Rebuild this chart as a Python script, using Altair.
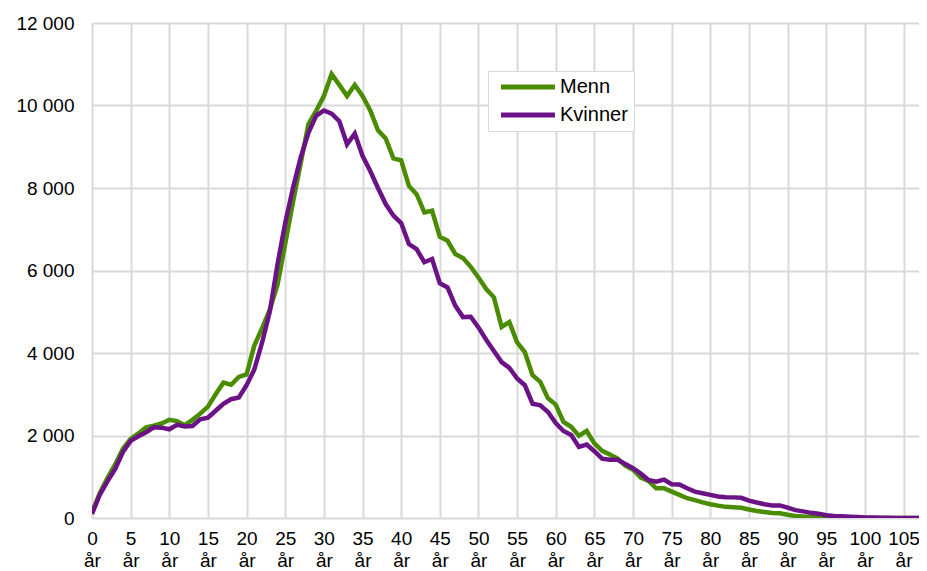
import altair as alt
import pandas as pd

ages = list(range(0, 108))

menn = [
    140, 600, 970, 1300, 1680, 1920, 2050, 2200, 2240, 2290,
    2380, 2350, 2250, 2380, 2530, 2700, 3000, 3280, 3230, 3420,
    3480, 4180, 4600, 5050, 5650, 6650, 7650, 8600, 9550, 9870,
    10230, 10760, 10500, 10230, 10500, 10230, 9880, 9400, 9200, 8720,
    8670, 8050, 7850, 7410, 7450, 6820, 6720, 6400, 6300, 6090,
    5830, 5550, 5350, 4630, 4750, 4260, 4020, 3460, 3300, 2900,
    2750, 2330, 2210, 1990, 2110, 1810, 1630, 1540, 1440, 1270,
    1170, 980, 900, 720, 720, 640, 560, 480, 435, 380,
    335, 300, 270, 260, 250, 205, 170, 145, 120, 115,
    80, 50, 35, 25, 20, 12, 8, 5, 3, 2,
    1, 0, 0, 0, 0, 0, 0, 0,
]

kvinner = [
    100, 560, 890, 1190, 1600, 1870, 1980, 2080, 2200, 2190,
    2150, 2260, 2220, 2230, 2390, 2430, 2600, 2770, 2880, 2920,
    3220, 3600, 4250, 5000, 6150, 7150, 8000, 8740, 9340, 9750,
    9880, 9800, 9620, 9060, 9320, 8780, 8410, 8000, 7610, 7330,
    7150, 6640, 6520, 6200, 6280, 5690, 5590, 5150, 4870, 4880,
    4620, 4320, 4050, 3780, 3640, 3380, 3220, 2770, 2730, 2570,
    2300, 2110, 2010, 1724, 1780, 1620, 1440, 1410, 1410, 1310,
    1210, 1080, 920, 880, 930, 820, 810, 720, 640, 600,
    560, 520, 505, 500, 490, 420, 375, 335, 305, 305,
    250, 190, 160, 125, 105, 65, 50, 40, 30, 22,
    15, 10, 6, 4, 2, 1, 0, 0,
]

x_ticks = list(range(0, 106, 5))
y_ticks = [0, 2000, 4000, 6000, 8000, 10000, 12000]
series = ["Menn", "Kvinner"]
colors = ["#4a8c00", "#6c1287"]

df = pd.DataFrame({
    "alder": ages * 2,
    "antall": menn + kvinner,
    "kjonn": ["Menn"] * len(ages) + ["Kvinner"] * len(ages),
})

FONT = "Liberation Sans"
GRID = "#d9d9d9"

base = alt.Chart(df).encode(
    x=alt.X(
        "alder:Q",
        scale=alt.Scale(domain=[0, 107], nice=False, zero=False),
        axis=alt.Axis(
            values=x_ticks,
            labelExpr="[datum.label, 'år']",
            title=None,
            grid=True,
            gridColor=GRID,
            gridWidth=2,
            domain=False,
            ticks=False,
            labelFont=FONT,
            labelFontSize=19,
            labelColor="#000000",
            labelPadding=11,
            labelLineHeight=22,
            labelFlush=False,
            labelOverlap=False,
        ),
    ),
    y=alt.Y(
        "antall:Q",
        scale=alt.Scale(domain=[0, 12000], nice=False),
        axis=alt.Axis(
            values=y_ticks,
            labelExpr="replace(format(datum.value, ','), ',', ' ')",
            title=None,
            grid=True,
            gridColor=GRID,
            gridWidth=2,
            domain=False,
            ticks=False,
            labelFont=FONT,
            labelFontSize=19,
            labelColor="#000000",
            labelPadding=18,
            labelFlush=False,
            labelOverlap=False,
        ),
    ),
    color=alt.Color(
        "kjonn:N",
        scale=alt.Scale(domain=series, range=colors),
        legend=alt.Legend(
            title=None,
            orient="none",
            legendX=396,
            legendY=48,
            strokeColor=GRID,
            fillColor="white",
            padding=6,
            symbolType="M-1.48,0H6.52",
            symbolStrokeWidth=5,
            symbolSize=182,
            symbolOffset=7,
            labelFont=FONT,
            labelFontSize=20,
            labelColor="#000000",
            labelOffset=39,
            labelExpr="datum.label + '   '",
            rowPadding=8,
        ),
    ),
)

lines = alt.layer(
    base.transform_filter(alt.datum.kjonn == "Menn").mark_line(strokeWidth=4.5, clip=True),
    base.transform_filter(alt.datum.kjonn == "Kvinner").mark_line(strokeWidth=4.5, clip=True),
)

chart = lines.properties(
    width=827,
    height=495,
    padding={"left": 84, "top": 15, "right": 0, "bottom": 53},
    autosize=alt.AutoSizeParams(type="none"),
).configure_view(stroke=None).configure(background="white")

chart.save("out.html", embed_options={"renderer": "svg", "actions": False})
